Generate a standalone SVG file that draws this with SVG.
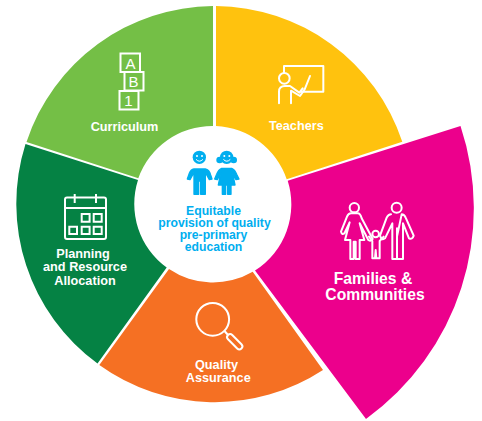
<svg xmlns="http://www.w3.org/2000/svg" width="482" height="421" viewBox="0 0 482 421">
<style>
.w{font-family:"Liberation Sans",Arial,sans-serif;font-weight:700;fill:#fff;text-anchor:middle;font-size:12.700px}
.l{font-size:15px;font-weight:400}
.f{font-size:15.700px}
.b{font-family:"Liberation Sans",Arial,sans-serif;font-weight:700;fill:#00aeef;text-anchor:middle;font-size:12.200px}
.i{fill:none;stroke:#fff;stroke-width:2}
.t{fill:none;stroke:#fff;stroke-width:6;stroke-linejoin:round;stroke-linecap:round}
.k{fill:#00aeef}
.ko{fill:#00aeef;stroke:#00aeef;stroke-width:4;stroke-linejoin:round}
.e{fill:#fff}
.s{fill:none;stroke:#fff;stroke-width:3;stroke-linecap:round}
</style>
<rect width="482" height="421" fill="#fff"/>
<g id="curriculum">
<path d="M213 6A198 198 0 0 0 26.500 142L138.300 178.300A78.500 78.500 0 0 1 213 126Z" fill="#74bf46"/>
<path class="i" d="M120.500 53.500H140V72H120.500ZM124.500 72H143.500V90.500H124.500ZM119.500 91H138.500V109.500H119.500Z"/>
<text class="w l" x="130.500" y="68.500">A</text>
<text class="w l" x="133.500" y="87">B</text>
<text class="w l" x="128.500" y="106">1</text>
<text class="w" x="124.500" y="131">Curriculum</text>
</g>
<g id="teachers">
<path d="M216 6A198 198 0 0 1 402.300 141.700L286.700 179.300A78.500 78.500 0 0 0 216 126Z" fill="#ffc20e"/>
<g transform="translate(270 60) scale(.3333)">
<path class="t" d="M42 38V18H160V95H92"/>
<circle class="t" cx="43" cy="55" r="16"/>
<path class="t" d="M27 130V95Q27 78 45 78H60L88 98L98 85M63 130V92L90 108L104 88L120 48"/>
</g>
<text class="w" x="296.300" y="130">Teachers</text>
</g>
<g id="families">
<path d="M287.700 180.700L460.500 126A260 260 0 0 1 366 419L255 270.500A78.500 78.500 0 0 0 287.700 180.700Z" fill="#ec008c"/>
<g transform="translate(335 195) scale(.3333)">
<circle class="t" cx="58" cy="38" r="14"/>
<circle class="t" cx="185" cy="38" r="15"/>
<circle class="t" cx="122" cy="117" r="10"/>
<path class="t" d="M48 55Q40 55 36 65L18 110Q20 120 28 115L44 82L30 135H46V192H56V140H62V192H74V135H88L74 85L100 135Q108 140 113 132L80 70Q76 55 68 55Z"/>
<path class="t" d="M102 125L112 138V190H120L122 165L124 190H134V138L146 125"/>
<path class="t" d="M168 58Q160 58 155 68L135 122Q140 138 150 130L172 85V192H186V100M186 125V192H204V85L222 130Q232 135 236 122L212 68Q208 58 200 58Z"/>
</g>
<text class="w f" x="373" y="284">Families &amp;</text>
<text class="w f" x="375" y="300">Communities</text>
</g>
<g id="quality">
<path d="M252.700 271.700L323 370A198 198 0 0 1 99.300 365L169 269A78.500 78.500 0 0 0 252.700 271.700Z" fill="#f57023"/>
<circle class="i" cx="212.700" cy="319.300" r="16.400"/>
<path class="i" d="M224.500 331L228 335"/>
<rect class="i" x="228" y="332" width="19" height="6" rx="3" transform="rotate(45 228 335)"/>
<text class="w" x="216.500" y="369">Quality</text>
<text class="w" x="218.300" y="382">Assurance</text>
</g>
<g id="planning">
<path d="M25.500 144A198 198 0 0 0 97.500 363.500L166.700 267.500A78.500 78.500 0 0 1 138 180Z" fill="#058244"/>
<rect class="i" x="65" y="197.500" width="41" height="41.500" rx="2"/>
<path class="i" d="M65 208H106M74.700 194V203M96 194V203"/>
<path class="i" d="M81.700 214H89.600V221.700H81.700ZM93.700 214H101.700V221.700H93.700ZM69.300 226.700H77V234H69.300ZM81.700 226.700H89.600V234H81.700ZM93.700 226.700H101.700V234H93.700Z"/>
<text class="w" x="83" y="258">Planning</text>
<text class="w" x="85" y="271">and Resource</text>
<text class="w" x="85" y="285">Allocation</text>
</g>
<g id="centre">
<g transform="translate(180 145) scale(.3333)">
<circle class="k" cx="58" cy="37" r="20"/>
<path class="ko" d="M42 72H76Q88 74 92 90L96 102L88 104L76 82V148H62V108H56V148H42V82L30 104L22 102L28 85Q32 74 42 72Z"/>
<circle class="e" cx="51" cy="33" r="3"/><circle class="e" cx="66" cy="33" r="3"/>
<path class="s" d="M49 44Q58 54 68 44"/>
<circle class="k" cx="140" cy="37" r="20"/>
<circle class="k" cx="119" cy="45" r="10"/><circle class="k" cx="161" cy="45" r="10"/>
<path class="ko" d="M125 70H155Q165 74 170 88L177 102L168 104L158 85L165 120H153V148H143V120H137V148H127V120H115L122 85L112 104L104 102L110 88Q115 74 125 70Z"/>
<circle class="e" cx="133" cy="33" r="3"/><circle class="e" cx="148" cy="33" r="3"/>
<path class="s" d="M131 44Q140 54 150 44"/>
</g>
<text class="b" x="213.500" y="215">Equitable</text>
<text class="b" x="214.500" y="227.300">provision of quality</text>
<text class="b" x="213.500" y="239.300">pre-primary</text>
<text class="b" x="213.500" y="251">education</text>
</g>
</svg>
